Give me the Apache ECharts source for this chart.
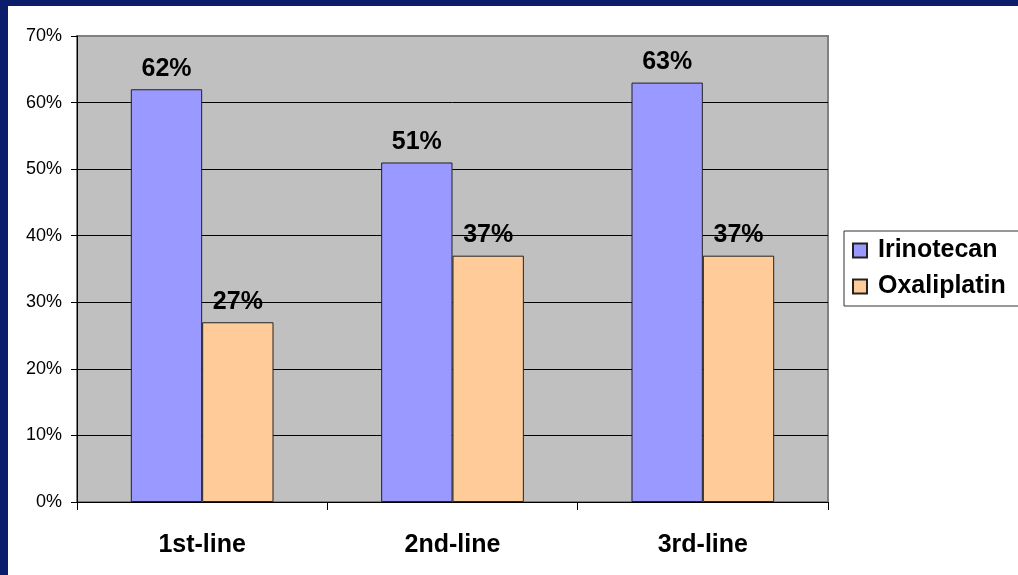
<!DOCTYPE html>
<html>
<head>
<meta charset="utf-8">
<script src="https://cdn.jsdelivr.net/npm/echarts@6/dist/echarts.min.js"></script>
<style>
html,body{margin:0;padding:0;width:1018px;height:575px;background:#0b1d6b;overflow:hidden;}
#c{position:absolute;left:8px;top:6px;width:1010px;height:569px;background:#ffffff;}
</style>
</head>
<body>
<div id="c"></div>
<script>
var categories = ['1st-line', '2nd-line', '3rd-line'];
var irinotecan = [62, 51, 63];
var oxaliplatin = [27, 37, 37];
var seriesNames = ['Irinotecan', 'Oxaliplatin'];

var chart = echarts.init(document.getElementById('c'));
var ff = 'Arial, Liberation Sans, sans-serif';
var labelCfg = {show: true, position: 'top', distance: 8, formatter: '{c}%',
  fontFamily: ff, fontWeight: 'bold', fontSize: 25, color: '#000'};
chart.setOption({
  animation: false,
  grid: {left: 69, top: 30, right: 190, bottom: 73, show: true,
    backgroundColor: '#C0C0C0', borderColor: '#808080', borderWidth: 2},
  legend: {
    orient: 'vertical', left: 836, top: 225,
    data: seriesNames,
    itemWidth: 14, itemHeight: 14, itemGap: 11,
    padding: [7, 40, 7, 8],
    borderColor: '#333', borderWidth: 1,
    icon: 'rect',
    textStyle: {fontFamily: ff, fontWeight: 'bold', fontSize: 25, color: '#000', padding: [0, 0, 0, 6]}
  },
  xAxis: {
    type: 'category', data: categories,
    axisLine: {show: true, lineStyle: {color: '#000', width: 1}},
    axisTick: {show: true, length: 8, lineStyle: {color: '#000'}},
    axisLabel: {fontFamily: ff, fontWeight: 'bold', fontSize: 25, color: '#000', margin: 31}
  },
  yAxis: {
    type: 'value', min: 0, max: 70, interval: 10,
    axisLine: {show: true, lineStyle: {color: '#000', width: 1}},
    axisTick: {show: true, length: 6, lineStyle: {color: '#000'}},
    axisLabel: {formatter: '{value}%', fontFamily: ff, fontSize: 18, color: '#000', margin: 15},
    splitLine: {show: true, lineStyle: {color: ['#000', '#000', '#000', '#000', '#000', '#000', '#000', '#808080'], width: 1}}
  },
  series: [
    {name: seriesNames[0], type: 'bar', data: irinotecan, barGap: '0%', barCategoryGap: '43%',
      itemStyle: {color: '#9999FF', borderColor: '#222', borderWidth: 1}, label: labelCfg},
    {name: seriesNames[1], type: 'bar', data: oxaliplatin, barGap: '0%', barCategoryGap: '43%',
      itemStyle: {color: '#FFCC99', borderColor: '#222', borderWidth: 1}, label: labelCfg}
  ]
});
</script>
</body>
</html>
